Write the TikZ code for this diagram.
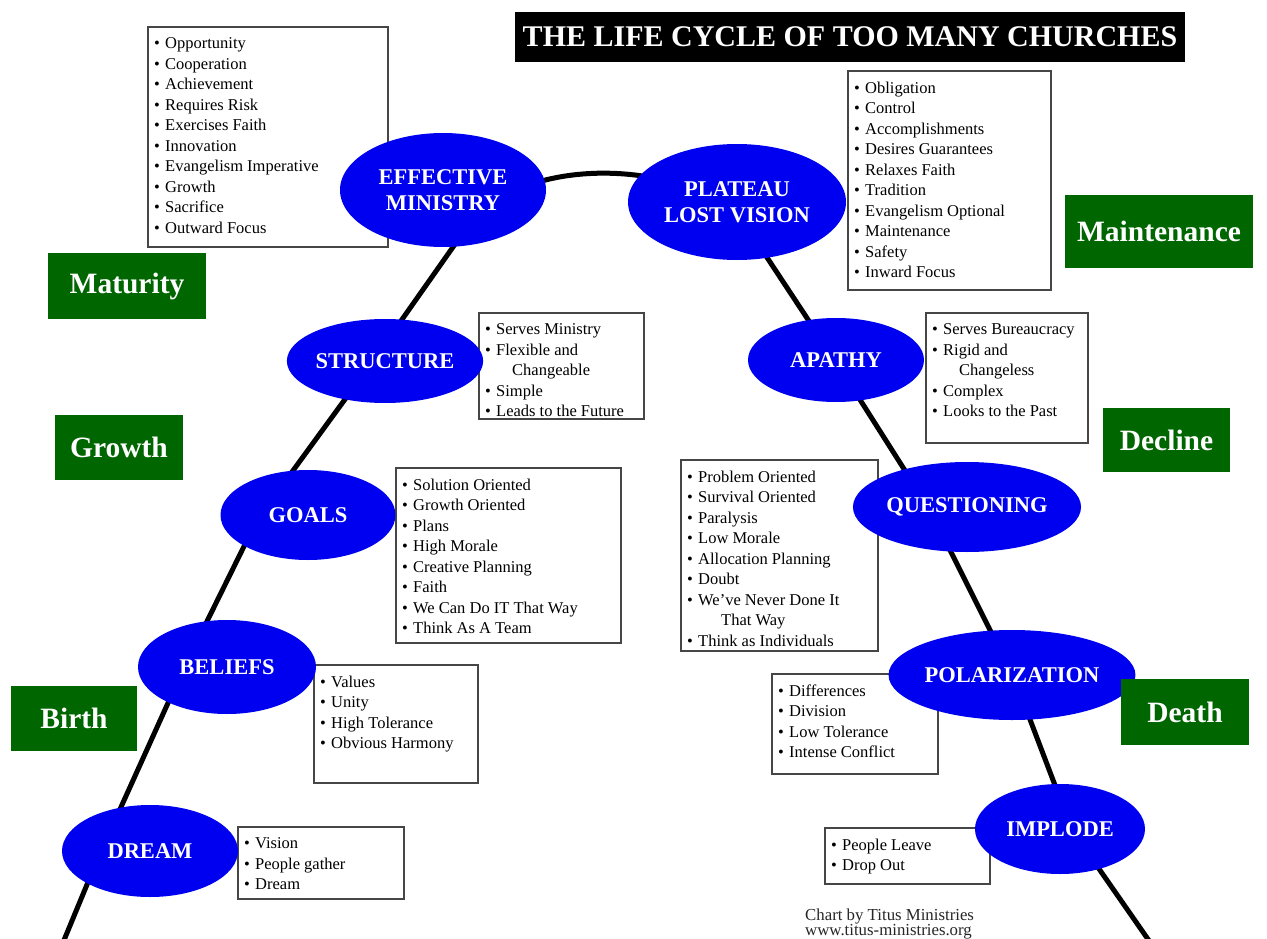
\documentclass[tikz,border=0pt]{standalone}
\usepackage{fontspec}
\setmainfont{Liberation Serif}
\usetikzlibrary{shapes.geometric,calc}
\definecolor{stageblue}{RGB}{0,0,240}
\definecolor{dkgreen}{RGB}{0,102,0}
\definecolor{boxline}{RGB}{70,70,70}
\newcommand\bul[1]{\makebox[11pt][l]{\textbullet}#1}
\tikzset{
  stage/.style={ellipse, fill=stageblue, text=white, inner sep=0pt, align=center,
    font=\bfseries\fontsize{22.5}{26}\selectfont},
  infobox/.style={draw=boxline, line width=1.8pt, fill=white, anchor=north west, inner sep=0pt},
  boxtext/.style={anchor=north west, inner sep=0pt, align=left,
    font=\fontsize{16.5}{20.5}\selectfont},
  phase/.style={fill=dkgreen, text=white, inner sep=0pt,
    font=\bfseries\fontsize{29.5}{31}\selectfont},
  arch/.style={line width=5pt, black, line join=round}
}
\begin{document}
\begin{tikzpicture}[x=1pt,y=-1pt]
\path[use as bounding box] (0,0) rectangle (1267,939);

% life-cycle curve (joints hidden inside the stage ellipses)
\coordinate (cstart) at (62,945);
\coordinate (j1) at (98,858);
\coordinate (j2) at (182,672);
\coordinate (j3) at (257,520);
\coordinate (j4) at (370,365);
\coordinate (j5) at (472,220);
\coordinate (j6) at (737,212);
\coordinate (j7) at (838,365);
\coordinate (j8) at (930,510);
\coordinate (j9) at (1015,680);
\coordinate (j10) at (1072,830);
\coordinate (cend) at (1152,945);
\draw[arch] (cstart) -- (j1) -- (j2) -- (j3) -- (j4) -- (j5)
  .. controls (527,160) and (662,158) .. (j6)
  -- (j7) -- (j8) -- (j9) -- (j10) -- (cend);

% information boxes
\node[infobox, minimum width=240, minimum height=220] (bxA) at (147,26) {};
\node[boxtext] (txA) at ($(bxA.north west)+(7,11.5)$) {\bul{Opportunity}\\\bul{Cooperation}\\\bul{Achievement}\\\bul{Requires Risk}\\\bul{Exercises Faith}\\\bul{Innovation}\\\bul{Evangelism Imperative}\\\bul{Growth}\\\bul{Sacrifice}\\\bul{Outward Focus}};

\node[infobox, minimum width=203, minimum height=219] (bxB) at (847,70) {};
\node[boxtext] (txB) at ($(bxB.north west)+(7,11.5)$) {\bul{Obligation}\\\bul{Control}\\\bul{Accomplishments}\\\bul{Desires Guarantees}\\\bul{Relaxes Faith}\\\bul{Tradition}\\\bul{Evangelism Optional}\\\bul{Maintenance}\\\bul{Safety}\\\bul{Inward Focus}};

\node[infobox, minimum width=165, minimum height=106] (bxC) at (478,312) {};
\node[boxtext] (txC) at ($(bxC.north west)+(7,11.5)$) {\bul{Serves Ministry}\\\bul{Flexible and}\\\hspace{27pt}Changeable\\\bul{Simple}\\\bul{Leads to the Future}};

\node[infobox, minimum width=162, minimum height=130] (bxD) at (925,312) {};
\node[boxtext] (txD) at ($(bxD.north west)+(7,11.5)$) {\bul{Serves Bureaucracy}\\\bul{Rigid and}\\\hspace{27pt}Changeless\\\bul{Complex}\\\bul{Looks to the Past}};

\node[infobox, minimum width=225, minimum height=175] (bxE) at (395,467) {};
\node[boxtext] (txE) at ($(bxE.north west)+(7,11.5)$) {\bul{Solution Oriented}\\\bul{Growth Oriented}\\\bul{Plans}\\\bul{High Morale}\\\bul{Creative Planning}\\\bul{Faith}\\\bul{We Can Do IT That Way}\\\bul{Think As A Team}};

\node[infobox, minimum width=197, minimum height=191] (bxF) at (680,459) {};
\node[boxtext] (txF) at ($(bxF.north west)+(7,11.5)$) {\bul{Problem Oriented}\\\bul{Survival Oriented}\\\bul{Paralysis}\\\bul{Low Morale}\\\bul{Allocation Planning}\\\bul{Doubt}\\\bul{We’ve Never Done It}\\\hspace{34pt}That Way\\\bul{Think as Individuals}};

\node[infobox, minimum width=164, minimum height=118] (bxG) at (313,664) {};
\node[boxtext] (txG) at ($(bxG.north west)+(7,11.5)$) {\bul{Values}\\\bul{Unity}\\\bul{High Tolerance}\\\bul{Obvious Harmony}};

\node[infobox, minimum width=166, minimum height=100] (bxH) at (771,673) {};
\node[boxtext] (txH) at ($(bxH.north west)+(7,11.5)$) {\bul{Differences}\\\bul{Division}\\\bul{Low Tolerance}\\\bul{Intense Conflict}};

\node[infobox, minimum width=166, minimum height=72] (bxI) at (237,826) {};
\node[boxtext] (txI) at ($(bxI.north west)+(7,11.5)$) {\bul{Vision}\\\bul{People gather}\\\bul{Dream}};

\node[infobox, minimum width=165, minimum height=56] (bxJ) at (824,827) {};
\node[boxtext] (txJ) at ($(bxJ.north west)+(7,11.5)$) {\bul{People Leave}\\\bul{Drop Out}};

% stages
\node[stage, minimum width=206, minimum height=114] (eff) at (443,190) {EFFECTIVE\\MINISTRY};
\node[stage, minimum width=218, minimum height=116] (plat) at (737,202) {PLATEAU\\LOST VISION};
\node[stage, minimum width=186, minimum height=84] (struct) at (385,361) {STRUCTURE};
\node[stage, minimum width=176, minimum height=84] (apathy) at (836,360) {APATHY};
\node[stage, minimum width=175, minimum height=90] (goals) at (308,515) {GOALS};
\node[stage, minimum width=227, minimum height=90] (quest) at (967,507) {QUESTIONING};
\node[stage, minimum width=178, minimum height=94] (beliefs) at (227,667) {BELIEFS};
\node[stage, minimum width=240, minimum height=90] (polar) at (1012,675) {POLARIZATION};
\node[stage, minimum width=176, minimum height=92] (dream) at (150,851) {DREAM};
\node[stage, minimum width=170, minimum height=90] (implode) at (1060,829) {IMPLODE};

% phase labels
\node[phase, minimum width=158, minimum height=66] (maturity) at (127,286) {Maturity};
\node[phase, minimum width=188, minimum height=73] (maint) at (1159,231.5) {Maintenance};
\node[phase, minimum width=128, minimum height=65] (growth) at (119,447.5) {Growth};
\node[phase, minimum width=127, minimum height=64] (decline) at (1166.5,440) {Decline};
\node[phase, minimum width=126, minimum height=65] (birth) at (74,718.5) {Birth};
\node[phase, minimum width=128, minimum height=66] (death) at (1185,712) {Death};

% title
\node[fill=black, text=white, minimum width=670, minimum height=50, inner sep=0pt,
  font=\bfseries\fontsize{30}{32}\selectfont] (title) at (850,37) {THE LIFE CYCLE OF TOO MANY CHURCHES};

% credit
\node[anchor=north west, inner sep=0pt, align=left, text=black!85,
  font=\fontsize{16.8}{15}\selectfont] (credit) at (805,909) {Chart by Titus Ministries\\www.titus-ministries.org};
\end{tikzpicture}
\end{document}
